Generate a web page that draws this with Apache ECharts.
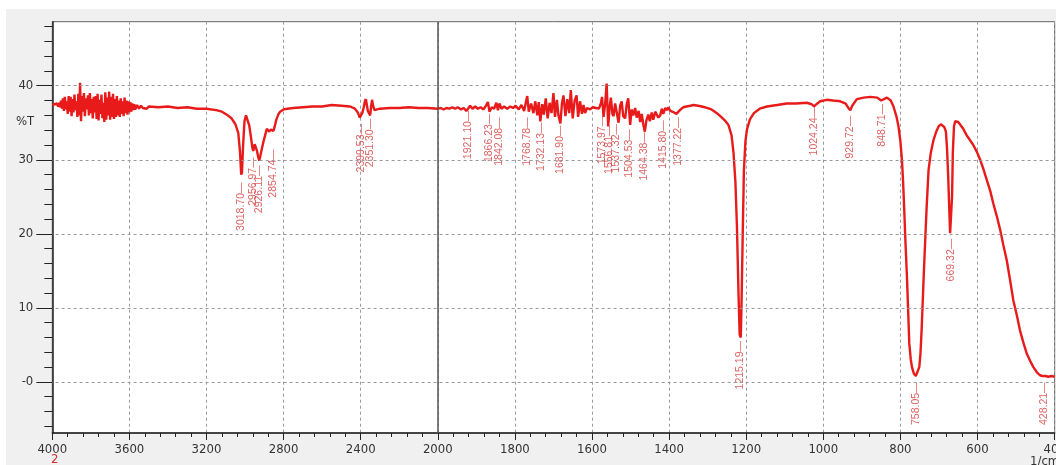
<!DOCTYPE html>
<html><head><meta charset="utf-8">
<script src="https://cdn.jsdelivr.net/npm/echarts@6/dist/echarts.min.js"></script>
<style>html,body{margin:0;padding:0;background:#fff;}#c{position:absolute;left:0;top:0;width:1056px;height:465px;}</style>
</head><body><div id="c"></div>
<script>
// ---- data (wavenumber in 1/cm, transmittance in %T) ----
const wavenumber = [
4000,3994,3988,3982,3976,3970,3965,3960,3955,3950,3945,3940,3935,3930,3925,3920,3915,3910,3905,3900,
3895,3890,3885,3880,3875,3870,3865,3860,3856,3851,3846,3841,3836,3831,3826,3820,3815,3810,3805,3800,
3795,3790,3785,3780,3775,3770,3765,3760,3755,3750,3745,3740,3735,3730,3725,3720,3715,3710,3705,3700,
3695,3690,3685,3680,3675,3670,3665,3660,3655,3650,3645,3640,3635,3630,3625,3620,3615,3610,3605,3600,
3595,3590,3585,3580,3575,3570,3560,3550,3540,3530,3520,3510,3500,3450,3400,3350,3300,3250,3200,3150,
3120,3090,3070,3050,3035,3026,3020,3016,3010,3003,2995,2988,2978,2970,2962,2957,2950,2944,2938,2931,
2926,2920,2912,2904,2895,2887,2880,2874,2866,2860,2853,2846,2838,2828,2818,2800,2780,2750,2700,2650,
2600,2550,2500,2455,2430,2415,2405,2399,2392,2385,2378,2373,2368,2363,2357,2351,2346,2341,2336,2328,
2315,2300,2250,2200,2150,2100,2050,2000,
1992,1985,1978,1970,1962,1955,1948,1940,1933,1926,1921,1916,1910,1903,1896,1889,1882,1875,1870,1866,
1860,1854,1848,1844,1840,1835,1828,1820,1812,1805,1798,1790,1783,1776,1771,1768,1764,1758,1752,1747,
1742,1738,1734,1729,1725,1720,1715,1710,1705,1700,1696,1691,1687,1682,1678,1674,1669,1664,1659,1655,
1650,1645,1640,1636,1631,1626,1622,1618,1613,1605,1598,1590,1582,1577,1574,1570,1566,1562,1558,1554,
1551,1547,1544,1540,1536,1531,1527,1523,1519,1514,1510,1506,1501,1497,1493,1488,1484,1479,1475,1471,
1467,1463,1459,1454,1450,1445,1441,1436,1432,1428,1423,1419,1415,1410,1406,1402,1397,1393,1387,1381,
1376,1370,1363,1355,1345,1337,1325,1315,1302,1290,1276,1265,1255,1246,1238,1233,1228,1224,1220,1217,
1214,1212,1209,1206,1202,1198,1190,1180,1165,1146,1120,1095,1070,1043,1030,1024,1018,1008,991,975,
956,942,935,930,925,913,895,878,860,850,846,835,825,818,810,805,800,796,793,790,
787,783,780,777,773,770,765,760,756,751,748,745,742,739,736,732,727,721,714,707,
701,695,690,686,682,679,676,673,671,668,666,664,661,658,655,650,645,637,628,620,
611,602,593,585,576,567,559,550,541,533,524,515,507,498,490,481,472,463,455,446,
438,432,428,424,420,416,412,408,404,400
];
const transmittance = [
37.4,37.2,37.5,37.3,37.6,37.2,37.7,37.1,38.0,36.9,38.3,36.6,38.5,36.8,37.9,36.2,38.6,36.5,38.5,35.9,
38.2,36.4,38.8,36.7,37.9,35.8,38.9,36.0,40.4,35.2,38.6,36.5,39.0,35.9,38.3,36.8,38.7,36.0,39.0,36.3,
38.2,35.6,38.5,36.4,38.6,35.5,38.9,35.3,38.1,36.2,38.8,35.6,37.7,35.1,39.1,35.4,38.4,36.0,39.2,35.4,
38.5,35.8,38.9,35.5,38.2,35.8,38.6,36.0,38.0,35.8,38.3,36.2,37.9,35.9,38.4,36.3,38.0,36.1,37.9,36.4,
37.8,36.5,37.6,36.7,37.5,36.8,37.4,36.9,37.3,37.0,37.2,36.9,37.2,37.1,37.2,37.0,37.1,36.9,36.9,36.7,
36.5,36.0,35.6,34.8,33.6,31.0,28.0,28.3,32.0,35.2,36.0,35.8,34.6,33.2,31.6,31.2,32.1,31.9,31.2,30.3,
29.9,30.6,31.6,32.5,33.4,34.2,34.0,33.8,34.1,34.0,33.9,34.5,35.4,36.1,36.5,36.8,36.9,37.0,37.1,37.2,
37.2,37.4,37.3,37.2,36.9,36.4,35.7,35.6,36.3,37.0,37.9,38.2,37.4,36.6,36.5,36.0,37.2,38.1,37.3,36.7,
36.8,36.9,37.0,37.0,37.1,37.0,37.0,36.9,
37.0,36.8,37.0,36.9,37.1,36.9,37.1,36.8,37.0,36.6,36.5,37.3,36.9,37.2,36.9,37.1,36.8,37.3,37.8,36.5,
37.1,36.9,37.7,36.7,37.6,36.9,37.2,36.9,37.2,37.0,37.3,36.8,37.4,36.6,37.9,38.6,36.5,37.6,36.3,37.9,
36.0,37.8,35.2,37.5,36.1,38.3,35.6,37.7,36.3,39.0,35.8,38.1,36.0,34.9,37.6,38.7,35.9,38.2,36.3,39.4,
35.6,38.0,38.7,35.8,37.9,36.2,37.4,36.3,37.0,36.8,37.1,37.0,36.9,37.6,38.5,35.8,37.5,40.3,34.5,37.2,
38.4,36.2,35.9,37.6,37.8,35.0,37.3,37.9,35.9,35.6,37.5,38.3,34.7,36.8,36.0,37.0,35.7,36.6,35.1,36.2,
34.8,33.8,35.3,36.1,35.2,36.4,35.4,36.5,36.6,35.7,36.0,36.9,36.2,37.0,36.7,37.1,36.6,36.8,36.4,36.2,
36.3,36.8,37.1,37.2,37.3,37.4,37.3,37.2,37.0,36.8,36.3,35.8,35.3,34.7,33.3,31.0,27.0,21.0,12.0,6.4,
6.0,11.0,20.0,28.5,32.5,34.1,35.5,36.3,36.9,37.2,37.4,37.6,37.6,37.7,37.5,37.2,37.5,37.9,38.1,38.0,
37.9,37.6,37.0,36.7,37.3,38.2,38.4,38.5,38.4,38.0,38.1,38.4,38.0,37.2,35.8,34.5,32.5,30.0,27.0,23.2,
19.0,14.2,9.8,5.2,3.0,2.0,1.1,0.8,0.9,2.0,3.8,7.0,11.0,15.0,18.7,23.5,28.6,31.0,32.7,33.8,
34.5,34.8,34.7,34.4,33.8,31.5,27.7,23.0,20.1,20.0,25.0,31.0,34.5,35.2,35.4,35.1,34.9,34.2,33.3,32.7,
32.0,31.1,30.0,28.8,27.3,25.8,24.1,22.4,20.5,18.5,16.4,13.6,11.0,9.0,7.0,5.3,3.8,2.8,2.0,1.3,
0.9,0.8,0.6,0.8,0.6,0.7,0.5,0.8,0.6,0.7
];
// peak annotations: wavenumber labels and the %T where each label starts
const peakNames = ['3018.70','2956.97','2926.11','2854.74','2399.53','2351.30','1921.10','1866.23','1842.08','1768.78',
'1732.13','1681.90','1573.97','1556.81','1537.32','1504.53','1464.38','1415.80','1377.22','1215.19',
'1024.24','929.72','848.71','758.05','669.32','428.21'];
const peakT = [27.0,30.4,29.3,31.5,34.9,35.6,36.7,36.3,35.8,35.8,
35.1,34.7,36.0,34.7,34.9,34.2,33.8,35.4,35.8,5.6,
37.2,36.0,37.6,0.0,19.4,0.0];
const yTickValues = [0,10,20,30,40];
const yMinorTicks = [-6,-4,-2,2,4,6,8,12,14,16,18,22,24,26,28,32,34,36,38,42,44,46,48];

// the axis is compressed 2:1 above 2000 1/cm
const BREAK = 2000;
const toU = w => w > BREAK ? BREAK + (w - BREAK) / 2 : w;
const fromU = u => u > BREAK ? BREAK + (u - BREAK) * 2 : u;

const lineData = wavenumber.map((w, i) => [toU(w), transmittance[i]]);
const peakData = peakNames.map((n, i) => [toU(parseFloat(n)), peakT[i], n]);

const narrow = "'Liberation Sans Narrow','DejaVu Sans Condensed','Liberation Sans',Arial,sans-serif";
const chart = echarts.init(document.getElementById('c'), null, {renderer: 'canvas'});
const Y_MIN = -6.9, Y_MAX = 48.65;
chart.setOption({
  animation: false,
  backgroundColor: '#f0f0f0',
  graphic: [
    {type: 'rect', shape: {x: 0, y: 0, width: 1056, height: 9}, style: {fill: '#fff'}, silent: true},
    {type: 'rect', shape: {x: 0, y: 0, width: 6, height: 465}, style: {fill: '#fff'}, silent: true},
    {type: 'text', left: 16, top: 115, style: {text: '%T', font: "13px " + narrow, fill: '#333'}},
    {type: 'text', left: 51, top: 453, style: {text: '2', font: "13px " + narrow, fill: '#d43030'}},
    {type: 'text', left: 1030, top: 455, style: {text: '1/cm', font: "13px " + narrow, fill: '#333'}}
  ],
  grid: {left: 52.3, right: 1.4, top: 21.7, bottom: 32, containLabel: false, outerBoundsMode: 'none',
         show: true, backgroundColor: '#fff', borderColor: '#666', borderWidth: 1},
  xAxis: {
    type: 'value', inverse: true, min: 400, max: 3000, interval: 200,
    axisLine: {onZero: false, lineStyle: {color: '#222', width: 1.5}},
    axisTick: {length: 7, lineStyle: {color: '#222'}},
    minorTick: {show: true, splitNumber: 5, length: 4, lineStyle: {color: '#222'}},
    splitLine: {show: true, lineStyle: {color: '#9a9a9a', type: [3, 3], width: 1}},
    axisLabel: {formatter: v => String(fromU(v)), fontSize: 13, fontFamily: narrow, color: '#333', margin: 10}
  },
  yAxis: [
    {
      type: 'value', min: Y_MIN, max: Y_MAX,
      axisLine: {show: true, onZero: false, lineStyle: {color: '#222', width: 1.5}},
      axisTick: {show: true, length: 16, customValues: yTickValues, lineStyle: {color: '#222'}},
      axisLabel: {customValues: yTickValues, formatter: v => v === 0 ? '-0' : String(v), fontSize: 13, fontFamily: narrow, color: '#333', margin: 19},
      splitLine: {show: false}
    },
    {
      type: 'value', min: Y_MIN, max: Y_MAX, position: 'left',
      axisLine: {show: false, onZero: false},
      axisTick: {show: true, length: 8, customValues: yMinorTicks, lineStyle: {color: '#222'}},
      axisLabel: {show: false},
      splitLine: {show: false}
    }
  ],
  series: [
    {
      type: 'line', data: [], z: 1, silent: true,
      markLine: {
        silent: true, symbol: 'none', label: {show: false}, animation: false,
        data: yTickValues.map(v => ({yAxis: v, lineStyle: {color: '#9a9a9a', type: [3, 3], width: 1}}))
          .concat([{xAxis: BREAK, lineStyle: {color: '#555', type: 'solid', width: 1.5}}])
      }
    },
    {
      type: 'line', data: lineData, symbol: 'none', z: 3, silent: true,
      lineStyle: {color: '#e81a1a', width: 2.4}
    },
    {
      type: 'scatter', data: peakData, symbolSize: 1, z: 4, silent: true,
      itemStyle: {color: 'rgba(0,0,0,0)'},
      label: {
        show: true, position: 'bottom', distance: 0, rotate: 90, align: 'right', verticalAlign: 'middle',
        formatter: p => p.data[2] + '\u2014', fontSize: 10.5, fontFamily: "'Liberation Sans',Arial,sans-serif", color: '#d43a3a'
      }
    }
  ]
});
</script></body></html>
